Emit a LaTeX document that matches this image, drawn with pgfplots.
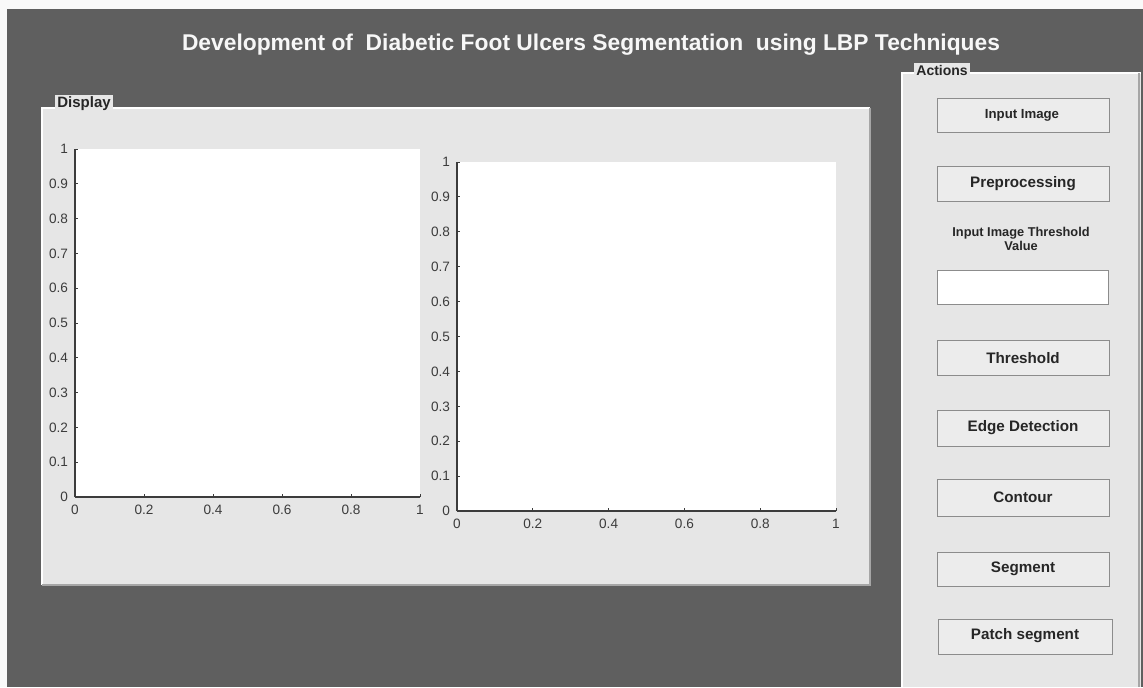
\documentclass[border=0pt]{standalone}
\usepackage{pgfplots}
\pgfplotsset{compat=1.18}
\usepackage{fontspec}
\setmainfont{Liberation Sans}
\definecolor{bgdark}{HTML}{5F5F5F}
\definecolor{panel}{HTML}{E6E6E6}
\definecolor{btn}{HTML}{ECECEC}
\definecolor{btnedge}{HTML}{8C8C8C}
\definecolor{tickc}{HTML}{3C3C3C}
\pgfplotsset{
  guiaxis/.style={
    scale only axis,
    anchor=south west,
    xmin=0, xmax=1, ymin=0, ymax=1,
    xtick={0,0.2,0.4,0.6,0.8,1},
    ytick={0,0.1,0.2,0.3,0.4,0.5,0.6,0.7,0.8,0.9,1},
    axis lines*=left,
    axis line style={draw=tickc, line width=0.6pt},
    tick align=inside,
    major tick length=1.6pt,
    tick style={draw=tickc, line width=0.5pt},
    axis background/.style={fill=white},
    /pgf/number format/assume math mode=true,
    ticklabel style={font=\fontsize{6.8}{7}\selectfont, text=tickc},
    xticklabel style={yshift=-0.5pt},
    yticklabel style={xshift=0pt},
  }
}
\begin{document}
\begin{tikzpicture}
\begin{scope}[x=0.5pt, y=-0.5pt]
  % background
  \fill[white!95!gray] (0,0) rectangle (1143,687);
  \fill[bgdark] (7,9) rectangle (1143,687);
  % title
  \node[text=white!94!gray, font=\bfseries\fontsize{11.4}{13}\selectfont] at (591,45)
    {Development of\ \ Diabetic Foot Ulcers Segmentation\ \ using LBP Techniques};
  % Display panel
  \fill[panel] (42,108) rectangle (870,585);
  \draw[white, line width=0.8pt] (42,585) -- (42,108) -- (870,108);
  \draw[gray!70, line width=0.6pt] (42,585) -- (870,585) -- (870,108);
  \node[anchor=west, fill=panel, inner sep=1pt, font=\bfseries\fontsize{7.5}{8}\selectfont, text=black!85]
    at (55,104) {Display};
  % Actions panel
  \fill[panel] (902,73) rectangle (1141,687);
  \draw[white, line width=0.8pt] (902,687) -- (902,73) -- (1141,73);
  \draw[gray!70, line width=0.6pt] (1139,73) -- (1139,687);
  \node[anchor=west, fill=panel, inner sep=1pt, font=\bfseries\fontsize{7.0}{8}\selectfont, text=black!85]
    at (914,70) {Actions};
  % buttons
  \tikzset{gbtn/.style={fill=btn, draw=btnedge, line width=0.5pt}}
  \tikzset{gtxt/.style={font=\bfseries\fontsize{7.6}{8}\selectfont, text=black!85}}
  \draw[gbtn] (937,98) rectangle (1109,132);
  \node[gtxt, font=\bfseries\fontsize{6.6}{8}\selectfont] at (1022,115) {Input Image};
  \draw[gbtn] (937,166) rectangle (1109,201);
  \node[gtxt] at (1023,184) {Preprocessing};
  \node[font=\bfseries\fontsize{6.4}{7.2}\selectfont, text=black!85, align=center] at (1021,239)
    {Input Image Threshold\\Value};
  \draw[fill=white, draw=btnedge, line width=0.5pt] (937,270) rectangle (1108,304);
  \draw[gbtn] (937,340) rectangle (1109,375);
  \node[gtxt] at (1023,358) {Threshold};
  \draw[gbtn] (937,410) rectangle (1109,446);
  \node[gtxt] at (1023,428) {Edge Detection};
  \draw[gbtn] (937,479) rectangle (1109,516);
  \node[gtxt] at (1023,497) {Contour};
  \draw[gbtn] (937,552) rectangle (1109,586);
  \node[gtxt] at (1023,569) {Segment};
  \draw[gbtn] (938,619) rectangle (1112,654);
  \node[gtxt] at (1025,636) {Patch segment};
\end{scope}
% left axis: pixels x 75..420, y 149..497
\begin{axis}[guiaxis, at={(37.5pt,-248.5pt)}, width=172.5pt, height=174pt]
\end{axis}
% right axis: pixels x 457..836, y 162..511
\begin{axis}[guiaxis, at={(228.5pt,-255.5pt)}, width=189.5pt, height=174.5pt]
\end{axis}
\end{tikzpicture}
\end{document}
